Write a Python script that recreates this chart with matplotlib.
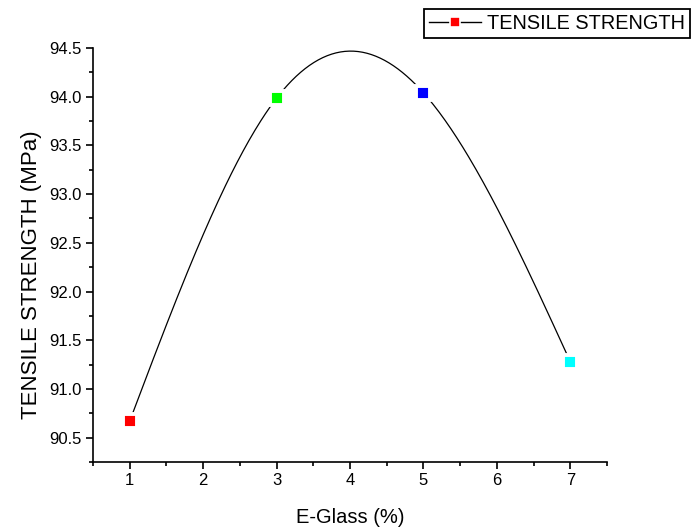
import numpy as np
from matplotlib import pyplot as plt
from matplotlib.lines import Line2D
from matplotlib.ticker import MultipleLocator

# data
e_glass = [1, 3, 5, 7]
tensile = [90.67, 93.985, 94.04, 91.28]
point_colors = ['#ff0000', '#00ff00', '#0000ff', '#00ffff']


def natural_spline(x, y, n=300):
    # natural cubic spline through the points (the smooth line Origin draws)
    x = np.asarray(x, float)
    y = np.asarray(y, float)
    k = len(x)
    h = np.diff(x)
    A = np.zeros((k, k))
    r = np.zeros(k)
    A[0, 0] = A[-1, -1] = 1
    for i in range(1, k - 1):
        A[i, i - 1] = h[i - 1]
        A[i, i] = 2 * (h[i - 1] + h[i])
        A[i, i + 1] = h[i]
        r[i] = 6 * ((y[i + 1] - y[i]) / h[i] - (y[i] - y[i - 1]) / h[i - 1])
    M = np.linalg.solve(A, r)
    xs = np.linspace(x[0], x[-1], n)
    idx = np.clip(np.searchsorted(x, xs) - 1, 0, k - 2)
    x0, x1 = x[idx], x[idx + 1]
    hh = x1 - x0
    ys = (M[idx] * (x1 - xs) ** 3 / (6 * hh) + M[idx + 1] * (xs - x0) ** 3 / (6 * hh)
          + (y[idx] / hh - M[idx] * hh / 6) * (x1 - xs)
          + (y[idx + 1] / hh - M[idx + 1] * hh / 6) * (xs - x0))
    return xs, ys


plt.rcParams['font.family'] = ['Liberation Sans', 'DejaVu Sans']

fig = plt.figure(figsize=(6.94, 5.31), dpi=100)
ax = fig.add_axes([93 / 694, 1 - 462 / 531, (607 - 93) / 694, (462 - 48) / 531])

xs, ys = natural_spline(e_glass, tensile)
ax.plot(xs, ys, color='black', lw=0.9, zorder=2)
for x, y, c in zip(e_glass, tensile, point_colors):
    ax.plot(x, y, 's', color=c, markersize=9.5, markeredgecolor='white',
            markeredgewidth=2.8, zorder=3)

ax.set_xlim(0.5, 7.5)
ax.set_ylim(90.25, 94.5)
ax.xaxis.set_major_locator(MultipleLocator(1))
ax.xaxis.set_minor_locator(MultipleLocator(0.5))
ax.yaxis.set_major_locator(MultipleLocator(0.5))
ax.yaxis.set_minor_locator(MultipleLocator(0.25))
ax.yaxis.set_major_formatter(plt.FormatStrFormatter('%.1f'))

for s in ['top', 'right']:
    ax.spines[s].set_visible(False)
for s in ['left', 'bottom']:
    ax.spines[s].set_linewidth(1.2)

ax.tick_params(which='major', direction='out', length=5, width=1.2, labelsize=12, pad=3)
ax.tick_params(which='minor', direction='out', length=3, width=1.2)

ax.set_xlabel('E-Glass (%)', fontsize=14.5, labelpad=14)
ax.set_ylabel('TENSILE STRENGTH (MPa)', fontsize=16, labelpad=8)
ax.yaxis.set_label_coords(-0.1, (462 - 275) / 414)

handle = Line2D([], [], color='black', lw=1.0, marker='s', markerfacecolor='#ff0000',
                markeredgecolor='white', markeredgewidth=1.2, markersize=7)
leg = fig.legend([handle], ['TENSILE STRENGTH'], loc='upper left',
                 bbox_to_anchor=(424 / 694, 1 - 9 / 531), fontsize=14.3,
                 fancybox=False, framealpha=1, edgecolor='black',
                 handlelength=2.6, handletextpad=0.3, borderpad=0.25,
                 borderaxespad=0)
leg.get_frame().set_linewidth(1.3)

plt.savefig('out.png', dpi=100)
